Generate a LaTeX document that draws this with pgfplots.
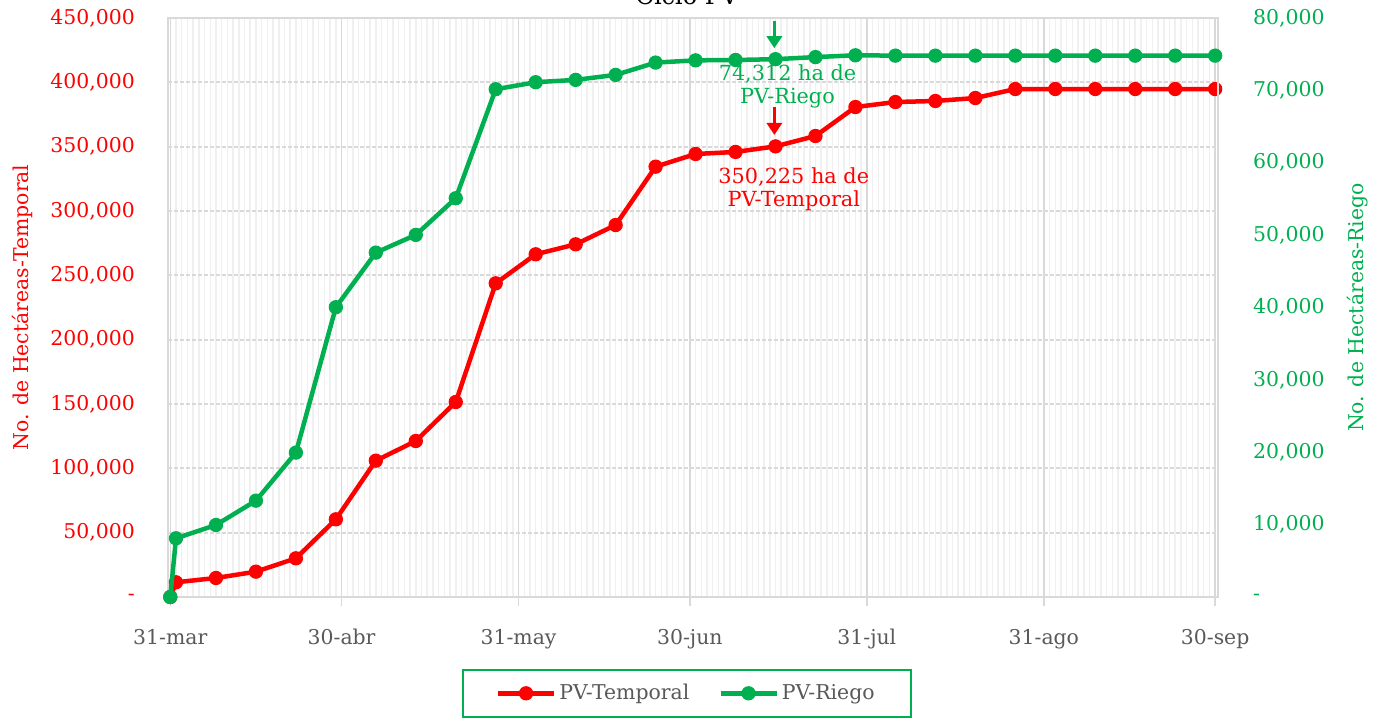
\documentclass[border=0pt]{standalone}
\usepackage{pgfplots}
\pgfplotsset{compat=1.18}
\usepackage{pgfplotstable}
\usepackage{fontspec}
\setmainfont{DejaVu Serif}
\usetikzlibrary{arrows.meta}
\definecolor{cred}{HTML}{FF0000}
\definecolor{cgreen}{HTML}{00B050}
\definecolor{gridc}{HTML}{D9D9D9}
\definecolor{minorc}{HTML}{F0F0F0}
\definecolor{txtgray}{HTML}{595959}

\pgfplotstableread{
day val
0 0
1 11430
8 14770
15 19690
22 30060
29 60370
36 105950
43 121240
50 151550
57 243800
64 266350
71 274100
78 289100
85 334450
92 344300
99 345900
106 350225
113 358300
120 380800
127 384700
134 385500
141 387800
148 394800
155 394800
162 394800
169 394800
176 394800
183 394800
}\temporal

\pgfplotstableread{
day val
0 0
1 8110
8 9950
15 13310
22 19950
29 40040
36 47580
43 50030
50 55100
57 70160
64 71130
71 71450
78 72140
85 73840
92 74150
99 74200
106 74312
113 74600
120 74850
127 74800
134 74800
141 74800
148 74800
155 74800
162 74800
169 74800
176 74800
183 74800
}\riego

\pgfplotsset{
  common/.style={
    at={(84bp,62bp)}, anchor=south west,
    scale only axis, width=525bp, height=289.5bp,
    xmin=-0.4, xmax=183.5,
    font=\fontsize{10.2bp}{12bp}\selectfont,
    axis line style={draw=gridc, line width=0.75bp},
    ytick style={draw=none},
    scaled y ticks=false,
  },
  mystyle/.style={line width=2.25bp, mark=*, mark size=3.2bp, mark options={solid, line width=0.75bp}},
}

\begin{document}
\fontsize{10.2bp}{12bp}\selectfont
\begin{tikzpicture}
\begin{axis}[common,
  ymin=0, ymax=450000,
  xtick={0,30,61,91,122,153,183},
  xticklabels={31-mar,30-abr,31-may,30-jun,31-jul,31-ago,30-sep},
  minor xtick={1,...,182},
  xtick align=outside, xtick pos=bottom,
  major tick length=4.5bp, minor tick length=0pt,
  xtick style={draw=gridc, line width=0.75bp},
  xticklabel style={text=txtgray, anchor=base, yshift=-19bp},
  ytick={0,50000,...,450000},
  yticklabels={-,{50,000},{100,000},{150,000},{200,000},{250,000},{300,000},{350,000},{400,000},{450,000}},
  yticklabel style={text=cred, xshift=-13bp},
  ylabel={No. de Hectáreas-Temporal},
  ylabel style={text=cred, at={(axis description cs:-0.139,0.5)}, anchor=center},
  xmajorgrids, ymajorgrids, xminorgrids,
  x grid style={draw=gridc, line width=0.75bp},
  y grid style={draw=gridc, line width=0.9bp, dash pattern=on 2bp off 1bp},
  minor x grid style={draw=minorc, line width=0.75bp},
  legend style={at={(0.494,-0.1244)}, anchor=north, draw=cgreen, line width=1bp,
    inner xsep=16.5bp, inner ysep=6bp, text=txtgray,
    font=\fontsize{10.2bp}{12bp}\selectfont,
    nodes={inner xsep=1.5bp, inner ysep=1bp},
    /tikz/every even column/.append style={column sep=13bp}},
  legend columns=2,
  legend image code/.code={\draw[mark repeat=2,mark phase=2,#1] plot coordinates {(0bp,0bp) (14bp,0bp) (28bp,0bp)};},
]
\addplot[mystyle, color=cred] table[x=day,y=val] {\temporal};
\addlegendentry{PV-Temporal}
\addlegendimage{mystyle, color=cgreen}
\addlegendentry{PV-Riego}
\draw[cred, line width=1.5bp, -{Triangle[width=7.5bp,length=6bp]}] (axis cs:105.8,380600) -- (axis cs:105.8,359100);
\node[text=cred, align=center, font=\fontsize{10.4bp}{11.5bp}\selectfont] at (axis cs:109.2,317250) {350,225 ha de\\PV-Temporal};
\end{axis}
\begin{axis}[common,
  ymin=0, ymax=80000,
  axis x line=none, axis y line*=right,
  ytick={0,10000,...,80000},
  yticklabels={-,{10,000},{20,000},{30,000},{40,000},{50,000},{60,000},{70,000},{80,000}},
  yticklabel style={text=cgreen, xshift=14bp},
  ylabel={No. de Hectáreas-Riego},
  ylabel style={text=cgreen, at={(axis description cs:1.1333,0.5)}, anchor=center},
]
\addplot[mystyle, color=cgreen] table[x=day,y=val] {\riego};
\draw[cgreen, line width=1.5bp, -{Triangle[width=7.5bp,length=6bp]}] (axis cs:105.8,79650) -- (axis cs:105.8,75830);
\node[text=cgreen, align=center, font=\fontsize{10.4bp}{11.5bp}\selectfont] at (axis cs:108.1,70550) {74,312 ha de\\PV-Riego};
\end{axis}
\node[anchor=base, font=\fontsize{12bp}{14bp}\selectfont] at (343.5bp,358bp) {Ciclo PV};
\pgfresetboundingbox
\useasboundingbox (0bp,0bp) rectangle (690bp,360.5bp);
\end{tikzpicture}
\end{document}
